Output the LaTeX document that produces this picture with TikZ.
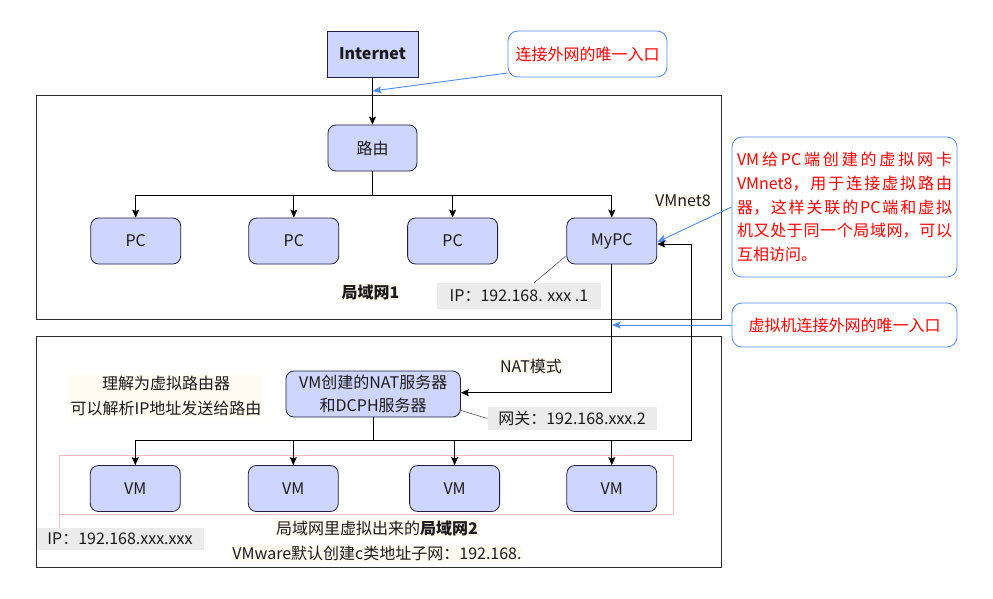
\documentclass[tikz,border=0pt]{standalone}
\usepackage{fontspec}
\setmainfont{Noto Sans CJK SC}
\usetikzlibrary{arrows.meta,calc}
\XeTeXlinebreaklocale "zh"
\XeTeXlinebreakskip=0pt plus 4pt
\definecolor{boxfill}{RGB}{206,214,255}
\definecolor{boxdraw}{RGB}{30,30,64}
\definecolor{cblue}{RGB}{80,138,245}
\definecolor{cred}{RGB}{255,0,0}
\definecolor{cream}{RGB}{255,251,240}
\definecolor{lgray}{RGB}{235,235,235}
\definecolor{pinkc}{RGB}{255,190,190}
\definecolor{txt}{RGB}{26,26,26}
\definecolor{framec}{RGB}{45,45,45}
\tikzset{
  f16/.style={font=\fontsize{16}{19}\selectfont},
  nbox/.style={f16, draw=boxdraw, fill=boxfill, line width=0.8pt, rounded corners=8pt,
    minimum width=90pt, minimum height=46pt, inner sep=0pt, text=txt},
  sqbox/.style={nbox, rounded corners=0pt},
  frame/.style={draw=framec, line width=0.8pt, inner sep=0pt},
  callout/.style={f16, draw=cblue, line width=0.8pt, fill=white, rounded corners=10pt,
    text=cred, inner sep=0pt},
  creamlbl/.style={f16, fill=cream, inner sep=1pt, text=txt},
  graylbl/.style={f16, fill=lgray, inner sep=0pt, text=txt},
  arr/.style={draw=black, line width=0.9pt, -{Stealth[length=8pt,width=7pt,inset=1.5pt]}},
  barr/.style={draw=cblue, line width=0.9pt, -{Stealth[length=9pt,width=7pt,inset=2pt]}},
  thinline/.style={draw=black!75, line width=0.5pt},
  pinkline/.style={draw=pinkc, line width=0.8pt}
}
\begin{document}
\begin{tikzpicture}[x=1pt,y=-1pt]
\useasboundingbox (0,0) rectangle (993,599);
\fill[white] (0,0) rectangle (993,599);

% frames
\node[frame, minimum width=685pt, minimum height=224pt] (lan1) at (379,207) {};
\node[frame, minimum width=685.5pt, minimum height=231pt] (lan2) at (378.75,451.5) {};
\node[draw=pinkc, line width=0.8pt, minimum width=614pt, minimum height=59pt, inner sep=0pt] (vmgrp) at (366.5,484.5) {};

% nodes
\node[sqbox, minimum width=91pt, font=\fontsize{16}{19}\selectfont\bfseries] (internet) at (372.5,54) {Internet};
\node[callout, minimum width=159pt, minimum height=46pt] (callout1) at (587.5,54) {连接外网的唯一入口};
\node[nbox, minimum width=89pt] (router) at (372.5,148) {路由};
\node[nbox] (pc1) at (135.7,241) {PC};
\node[nbox] (pc2) at (293.8,241) {PC};
\node[nbox] (pc3) at (452.6,241) {PC};
\node[nbox] (mypc) at (611.8,241) {MyPC};
\node[creamlbl, font=\fontsize{16}{19}\selectfont\bfseries] (lan1lbl) at (370.5,292) {局域网1};
\node[graylbl, minimum width=164pt, minimum height=26pt] (ip1) at (519,296) {IP：192.168. xxx .1};
\node[creamlbl] (vmnet) at (683,201) {VMnet8};
\node[callout, minimum width=225pt, minimum height=140pt] (callout2) at (844.5,207)
  {\parbox{215pt}{\fontsize{16}{23.6}\selectfont\tolerance=10000
   VM给PC端创建的虚拟网卡\linebreak
   VMnet8，用于连接虚拟路由\linebreak
   器，这样关联的PC端和虚拟\linebreak
   机又处于同一个局域网，可以\linebreak
   互相访问。}};
\node[callout, minimum width=225pt, minimum height=44pt] (callout3) at (844.5,325) {虚拟机连接外网的唯一入口};

\node[nbox, minimum width=174.5pt, align=center, font=\fontsize{16}{23}\selectfont] (nat) at (373.2,394)
  {VM创建的NAT服务器\\和DCPH服务器};
\node[creamlbl] (natmode) at (531,366) {NAT模式};
\node[creamlbl, align=center, font=\fontsize{16}{25}\selectfont] (note) at (166,396)
  {理解为虚拟路由器\\可以解析IP地址发送给路由};
\node[graylbl, minimum width=169pt, minimum height=23pt] (gw) at (572,418.5) {网关：192.168.xxx.2};

\node[nbox] (vm1) at (135.3,488.5) {VM};
\node[nbox] (vm2) at (293.3,488.5) {VM};
\node[nbox] (vm3) at (454.6,488.5) {VM};
\node[nbox] (vm4) at (611.8,488.5) {VM};

\node[creamlbl] (lan2a) at (377,528) {局域网里虚拟出来的\textbf{局域网2}};
\node[creamlbl] (lan2b) at (377,553) {VMware默认创建c类地址子网：192.168.};
\node[graylbl, minimum width=167pt, minimum height=22pt] (ip2) at (120,539) {IP：192.168.xxx.xxx};

% connectors
\draw[arr] (internet) -- (router);
\coordinate (e1) at (372.5,91);
\draw[barr] ($(callout1.west)+(0,19)$) -- (e1);

\coordinate (rbus) at (372.5,195);
\draw[arr] (router.south) -- (rbus) -| (pc1.north);
\draw[arr] (router.south) -- (rbus) -| (pc2.north);
\draw[arr] (router.south) -- (rbus) -| (pc3.north);
\draw[arr] (router.south) -- (rbus) -| (mypc.north);

\draw[thinline] ($(mypc.south west)+(-1,-8)$) -- ($(ip1.north)+(15,0)$);
\draw[barr] (callout2.west) -- ($(mypc.east)+(0,1)$);

\draw[arr] (mypc.south) |- ($(nat.east)+(0,-1.3)$);
\coordinate (e3) at (611.8,325);
\draw[barr] (callout3.west) -- (e3);

\coordinate (nbus) at (373.2,440);
\draw[arr] (nat.south) -- (nbus) -| (vm1.north);
\draw[arr] (nat.south) -- (nbus) -| (vm2.north);
\draw[arr] (nat.south) -- (nbus) -| (vm3.north);
\draw[arr] (nat.south) -- (nbus) -| (vm4.north);
\coordinate (mr) at (691,244);
\draw[arr] (nat.south) -- (nbus) -| (mr) -- (mypc.east |- mr);

\draw[thinline] ($(nat.south east)+(0,-7)$) -- (gw.west);
\draw[pinkline] (vmgrp.south west) -- (vmgrp.south west |- ip2.north);
\end{tikzpicture}
\end{document}
